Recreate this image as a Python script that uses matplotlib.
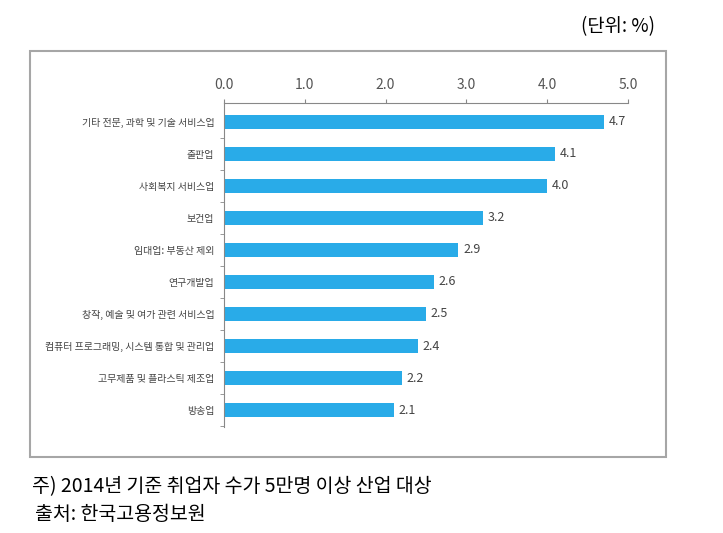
import matplotlib.pyplot as plt
import numpy as np
from matplotlib.patches import Rectangle

plt.rcParams['font.family'] = ['Noto Sans CJK KR', 'DejaVu Sans']

# Data
industries = [
    '기타 전문, 과학 및 기술 서비스업',
    '출판업',
    '사회복지 서비스업',
    '보건업',
    '임대업: 부동산 제외',
    '연구개발업',
    '창작, 예술 및 여가 관련 서비스업',
    '컴퓨터 프로그래밍, 시스템 통합 및 관리업',
    '고무제품 및 플라스틱 제조업',
    '방송업',
]
rates = [4.7, 4.1, 4.0, 3.2, 2.9, 2.6, 2.5, 2.4, 2.2, 2.1]
x_ticks = [0.0, 1.0, 2.0, 3.0, 4.0, 5.0]

W, H = 723, 533
fig = plt.figure(figsize=(W / 100, H / 100), dpi=100)

# Outer frame around the chart
fig.patches.append(Rectangle((30 / W, 1 - 457 / H), 636 / W, 406 / H,
                             transform=fig.transFigure, fill=False,
                             edgecolor='#a6a6a6', linewidth=1.5))

ax = fig.add_axes([224 / W, 1 - 427 / H, 404 / W, 324 / H])
y = np.arange(len(industries))
bars = ax.barh(y, rates, height=0.42, color='#29abe8')

for bar, val in zip(bars, rates):
    ax.text(bar.get_width() + 0.06, bar.get_y() + bar.get_height() / 2,
            f'{val:.1f}', va='center', ha='left', fontsize=9, color='#444444')

ax.set_xlim(0, 5.0)
ax.set_ylim(9.53, -0.59)
ax.xaxis.tick_top()
ax.set_xticks(x_ticks)
ax.set_xticklabels([f'{t:.1f}' for t in x_ticks], fontsize=10, color='#555555')
ax.tick_params(axis='x', length=3, color='#888888', pad=5)

ax.set_yticks(y)
ax.set_yticklabels(industries, fontsize=7.2, color='#444444')
ax.tick_params(axis='y', length=0, pad=7)
ax.set_yticks(np.arange(0.5, 10, 1), minor=True)
ax.tick_params(axis='y', which='minor', length=3, color='#888888')

for side in ['right', 'bottom']:
    ax.spines[side].set_visible(False)
for side in ['top', 'left']:
    ax.spines[side].set_color('#888888')
    ax.spines[side].set_linewidth(0.8)

fig.text(655 / W, 1 - 27 / H, '(단위: %)', ha='right', va='center',
         fontsize=13.5)
fig.text(32 / W, 1 - 487 / H, '주) 2014년 기준 취업자 수가 5만명 이상 산업 대상',
         ha='left', va='center', fontsize=14)
fig.text(35 / W, 1 - 515 / H, '출처: 한국고용정보원', ha='left', va='center',
         fontsize=14)

fig.savefig('out.png', dpi=100)
